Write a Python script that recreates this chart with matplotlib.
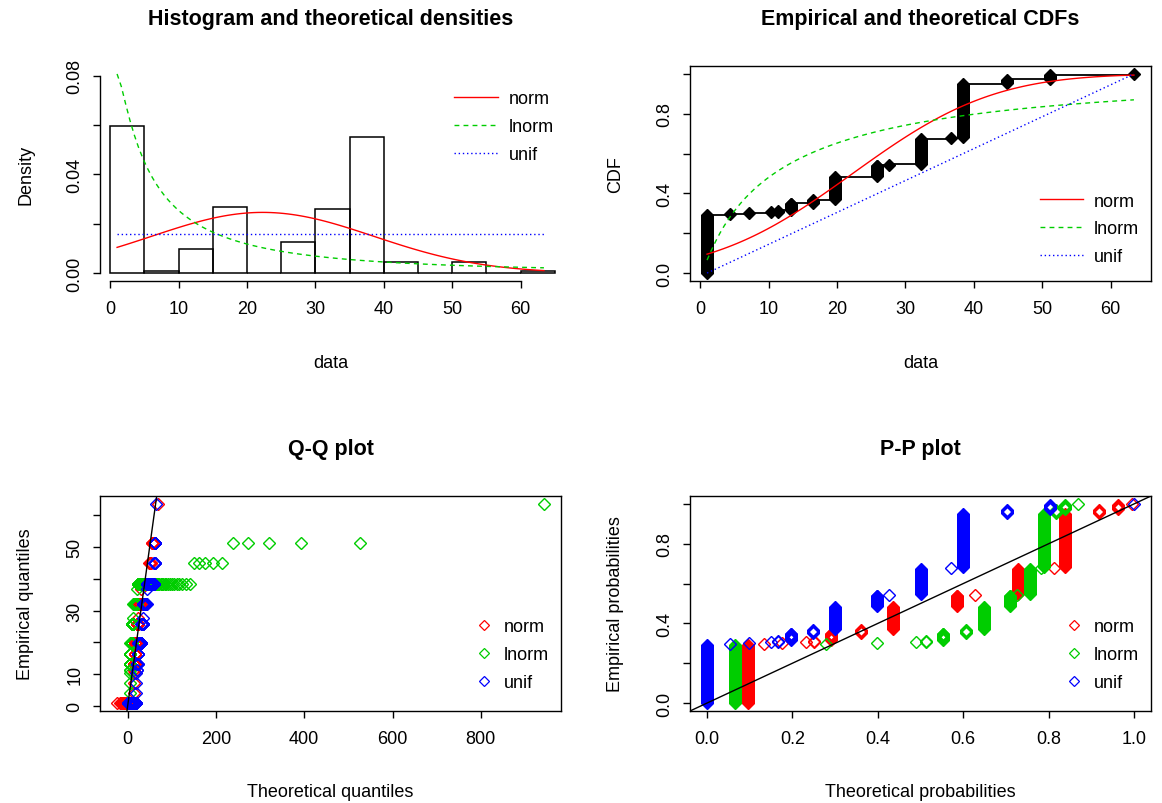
import numpy as np
import matplotlib
matplotlib.use("Agg")
import matplotlib.pyplot as plt
from matplotlib.lines import Line2D
from statistics import NormalDist

plt.rcParams['font.family'] = ['Liberation Sans', 'DejaVu Sans']
plt.rcParams['axes.linewidth'] = 1.0

# observed values (with ties) and their frequencies
values = [1.0, 4.3, 7.2, 10.4, 11.4, 13.3, 16.5, 19.7, 25.8, 27.6,
          32.2, 36.7, 38.4, 44.8, 51.1, 63.4]
counts = [66, 1, 1, 1, 2, 8, 4, 26, 13, 1, 29, 1, 61, 5, 5, 1]

fit_names = ["norm", "lnorm", "unif"]
fit_colors = ["#FF0000", "#00CD00", "#0000FF"]
fit_lines = ["-", (0, (3.5, 3.0)), (0, (1.0, 2.0))]

hist_breaks = np.arange(0, 70, 5)

data = np.sort(np.repeat(values, counts))
n = data.size
probs = (np.arange(1, n + 1) - 0.5) / n

# maximum likelihood estimates
mu, sigma = data.mean(), data.std()
mlog, slog = np.log(data).mean(), np.log(data).std()
lo, hi = data.min(), data.max()
gauss = NormalDist(mu, sigma)
lgauss = NormalDist(mlog, slog)

dfun = {
    "norm": lambda x: np.array([gauss.pdf(v) for v in x]),
    "lnorm": lambda x: np.array([lgauss.pdf(np.log(v)) / v for v in x]),
    "unif": lambda x: np.where((x >= lo) & (x <= hi), 1.0 / (hi - lo), 0.0),
}
pfun = {
    "norm": lambda x: np.array([gauss.cdf(v) for v in x]),
    "lnorm": lambda x: np.array([lgauss.cdf(np.log(v)) for v in x]),
    "unif": lambda x: np.clip((x - lo) / (hi - lo), 0, 1),
}
qfun = {
    "norm": lambda p: np.array([gauss.inv_cdf(v) for v in p]),
    "lnorm": lambda p: np.exp([lgauss.inv_cdf(v) for v in p]),
    "unif": lambda p: lo + p * (hi - lo),
}

W, H = 1162, 804
fig = plt.figure(figsize=(W / 100, H / 100), dpi=100)
FS = 13


def expand(a, b):
    d = 0.04 * (b - a)
    return a - d, b + d


def panel(box, title, xlabel, ylabel, boxed=True):
    l, t, r, b = box
    w, h = r - l, b - t
    ax = fig.add_axes([l / W, 1 - b / H, w / W, h / H])
    ax.tick_params(direction='out', length=5, width=1.0, labelsize=FS)
    ax.tick_params(axis='x', pad=9)
    ax.tick_params(axis='y', pad=7)
    if not boxed:
        ax.spines['top'].set_visible(False)
        ax.spines['right'].set_visible(False)
    ax.text(0.5, 1 + 47 / h, title, transform=ax.transAxes, ha='center',
            va='center', fontsize=15.5, fontweight='bold')
    ax.set_xlabel(xlabel, fontsize=FS)
    ax.xaxis.set_label_coords(0.5, -81 / h)
    ax.xaxis.label.set_va('center')
    ax.set_ylabel(ylabel, fontsize=FS)
    ax.yaxis.set_label_coords(-74 / w, 0.5)
    ax.yaxis.label.set_va('center')
    ax.yaxis.label.set_ha('center')
    return ax


def yticks(ax, ticks, labels):
    ax.set_yticks(ticks)
    ax.set_yticklabels(labels, rotation=90, va='center')


def line_legend(ax, loc, anchor):
    handles = [Line2D([], [], color=c, ls=s, lw=1.0)
               for c, s in zip(fit_colors, fit_lines)]
    ax.legend(handles, fit_names, loc=loc, bbox_to_anchor=anchor, frameon=False,
              fontsize=FS, handlelength=2.4, handletextpad=0.6,
              labelspacing=0.6, borderaxespad=0.0)


def point_legend(ax):
    handles = [Line2D([], [], ls='none', marker='D', ms=5.5, mfc='none',
                      mec=c, mew=0.9) for c in fit_colors]
    ax.legend(handles, fit_names, loc='lower right', bbox_to_anchor=(0.99, 0.06),
              frameon=False, fontsize=FS, handlelength=1.0, handletextpad=0.6,
              labelspacing=0.6, borderaxespad=0.0)


xs = np.linspace(lo, hi, 101)

# histogram and densities
ax1 = panel((100, 67, 561, 282), "Histogram and theoretical densities",
            "data", "Density", boxed=False)
hcounts, _ = np.histogram(data, bins=hist_breaks, density=True)
ax1.hist(data, bins=hist_breaks, density=True, facecolor='none',
         edgecolor='black', linewidth=1.1)
ymax = max(hcounts.max(), max(dfun[k](xs).max() for k in fit_names))
for k, c, s in zip(fit_names, fit_colors, fit_lines):
    ax1.plot(xs, dfun[k](xs), color=c, ls=s, lw=1.0)
ax1.set_xlim(*expand(lo, hi))
ax1.set_ylim(*expand(0, ymax))
ax1.set_xticks(np.arange(0, 70, 10))
yticks(ax1, [0, 0.02, 0.04, 0.06, 0.08], ["0.00", "", "0.04", "", "0.08"])
ax1.spines['left'].set_bounds(0, 0.08)
ax1.spines['bottom'].set_bounds(0, 60)
line_legend(ax1, 'upper right', (1.0, 0.92))

# empirical vs fitted CDFs
ax2 = panel((690, 67, 1151, 282), "Empirical and theoretical CDFs", "data", "CDF")
steps = np.arange(1, n) / n
ax2.hlines(steps, data[:-1], data[1:], color='black', lw=1.3)
ax2.plot(data, probs, ls='none', marker='D', ms=6.5, color='black')
for k, c, s in zip(fit_names, fit_colors, fit_lines):
    ax2.plot(xs, pfun[k](xs), color=c, ls=s, lw=1.0)
ax2.set_xlim(*expand(lo, hi))
ax2.set_ylim(*expand(0, 1))
ax2.set_xticks(np.arange(0, 70, 10))
yticks(ax2, np.arange(0, 1.01, 0.2), ["0.0", "", "0.4", "", "0.8", ""])
line_legend(ax2, 'lower right', (0.99, 0.04))

# Q-Q plot
ax3 = panel((100, 497, 561, 712), "Q-Q plot", "Theoretical quantiles",
            "Empirical quantiles")
qall = []
for k, c in zip(fit_names, fit_colors):
    q = qfun[k](probs)
    qall.append(q)
    ax3.plot(q, data, ls='none', marker='D', ms=6.5, mfc='none', mec=c, mew=1.0)
qall = np.concatenate(qall)
ax3.set_xlim(*expand(qall.min(), qall.max()))
ax3.set_ylim(*expand(lo, hi))
ax3.axline((0, 0), slope=1, color='black', lw=1.0)
ax3.set_xticks(np.arange(0, 1000, 200))
yticks(ax3, np.arange(0, 70, 10), ["0", "10", "", "30", "", "50", ""])
point_legend(ax3)

# P-P plot
ax4 = panel((690, 497, 1151, 712), "P-P plot", "Theoretical probabilities",
            "Empirical probabilities")
for k, c in zip(fit_names, fit_colors):
    ax4.plot(pfun[k](data), probs, ls='none', marker='D', ms=6.5, mfc='none',
             mec=c, mew=1.0)
ax4.set_xlim(*expand(0, 1))
ax4.set_ylim(*expand(0, 1))
ax4.axline((0, 0), slope=1, color='black', lw=1.0)
ax4.set_xticks(np.arange(0, 1.01, 0.2))
ax4.set_xticklabels(["0.0", "0.2", "0.4", "0.6", "0.8", "1.0"])
yticks(ax4, np.arange(0, 1.01, 0.2), ["0.0", "", "0.4", "", "0.8", ""])
point_legend(ax4)

fig.savefig("out.png", dpi=100)
